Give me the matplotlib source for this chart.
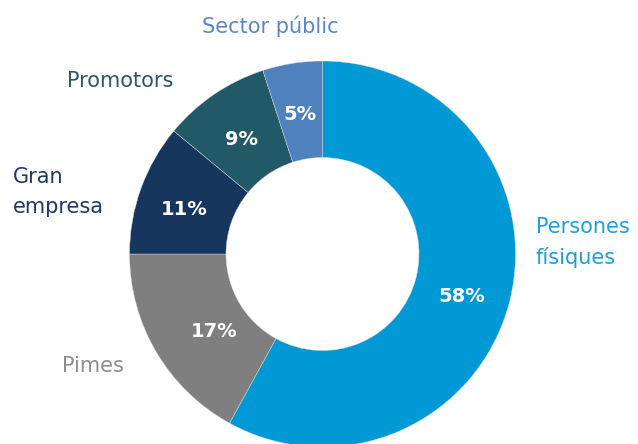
import matplotlib
matplotlib.use("Agg")
import matplotlib.pyplot as plt

categories = ["Persones\nfísiques", "Pimes", "Gran\nempresa", "Promotors", "Sector públic"]
values = [58, 17, 11, 9, 5]
slice_colors = ["#0099D6", "#7F7F7F", "#17365D", "#215967", "#4F81BD"]
label_colors = ["#1AA0DC", "#8C8C8C", "#1F3864", "#2B5766", "#5B87C8"]
pct_labels = ["58%", "17%", "11%", "9%", "5%"]

# layout (pixels from top-left); multi-line labels anchored on last line baseline
W, H = 638, 444
cx, cy, R = 322.5, 254, 193
pct_pos = [(462, 302), (214, 337), (184, 215), (241, 145), (300, 120)]
cat_pos = [(536, 264, "left"), (62, 372, "left"), (13, 213, "left"), (67, 87, "left"), (270, 33, "center")]

plt.rcParams['font.family'] = ['DejaVu Sans']
fig = plt.figure(figsize=(W / 100, H / 100), dpi=100)
ax = fig.add_axes([0, 0, 1, 1])
ax.pie(values, colors=slice_colors, startangle=90, counterclock=False,
       center=(cx, H - cy), radius=R,
       wedgeprops=dict(width=R * 0.5, edgecolor="#dddddd", linewidth=0.3))
ax.set_xlim(0, W)
ax.set_ylim(0, H)
ax.set_aspect('auto')
ax.axis('off')

for (x, y), t in zip(pct_pos, pct_labels):
    ax.text(x, H - y, t, ha='center', va='baseline', color='white',
            fontsize=14, fontweight='bold')

for (x, y, ha), t, c in zip(cat_pos, categories, label_colors):
    ax.text(x, H - y, t, ha=ha, va='baseline', color=c, fontsize=15,
            linespacing=1.6 if "\n" in t else 1.0)

fig.savefig("out.png", dpi=100)
